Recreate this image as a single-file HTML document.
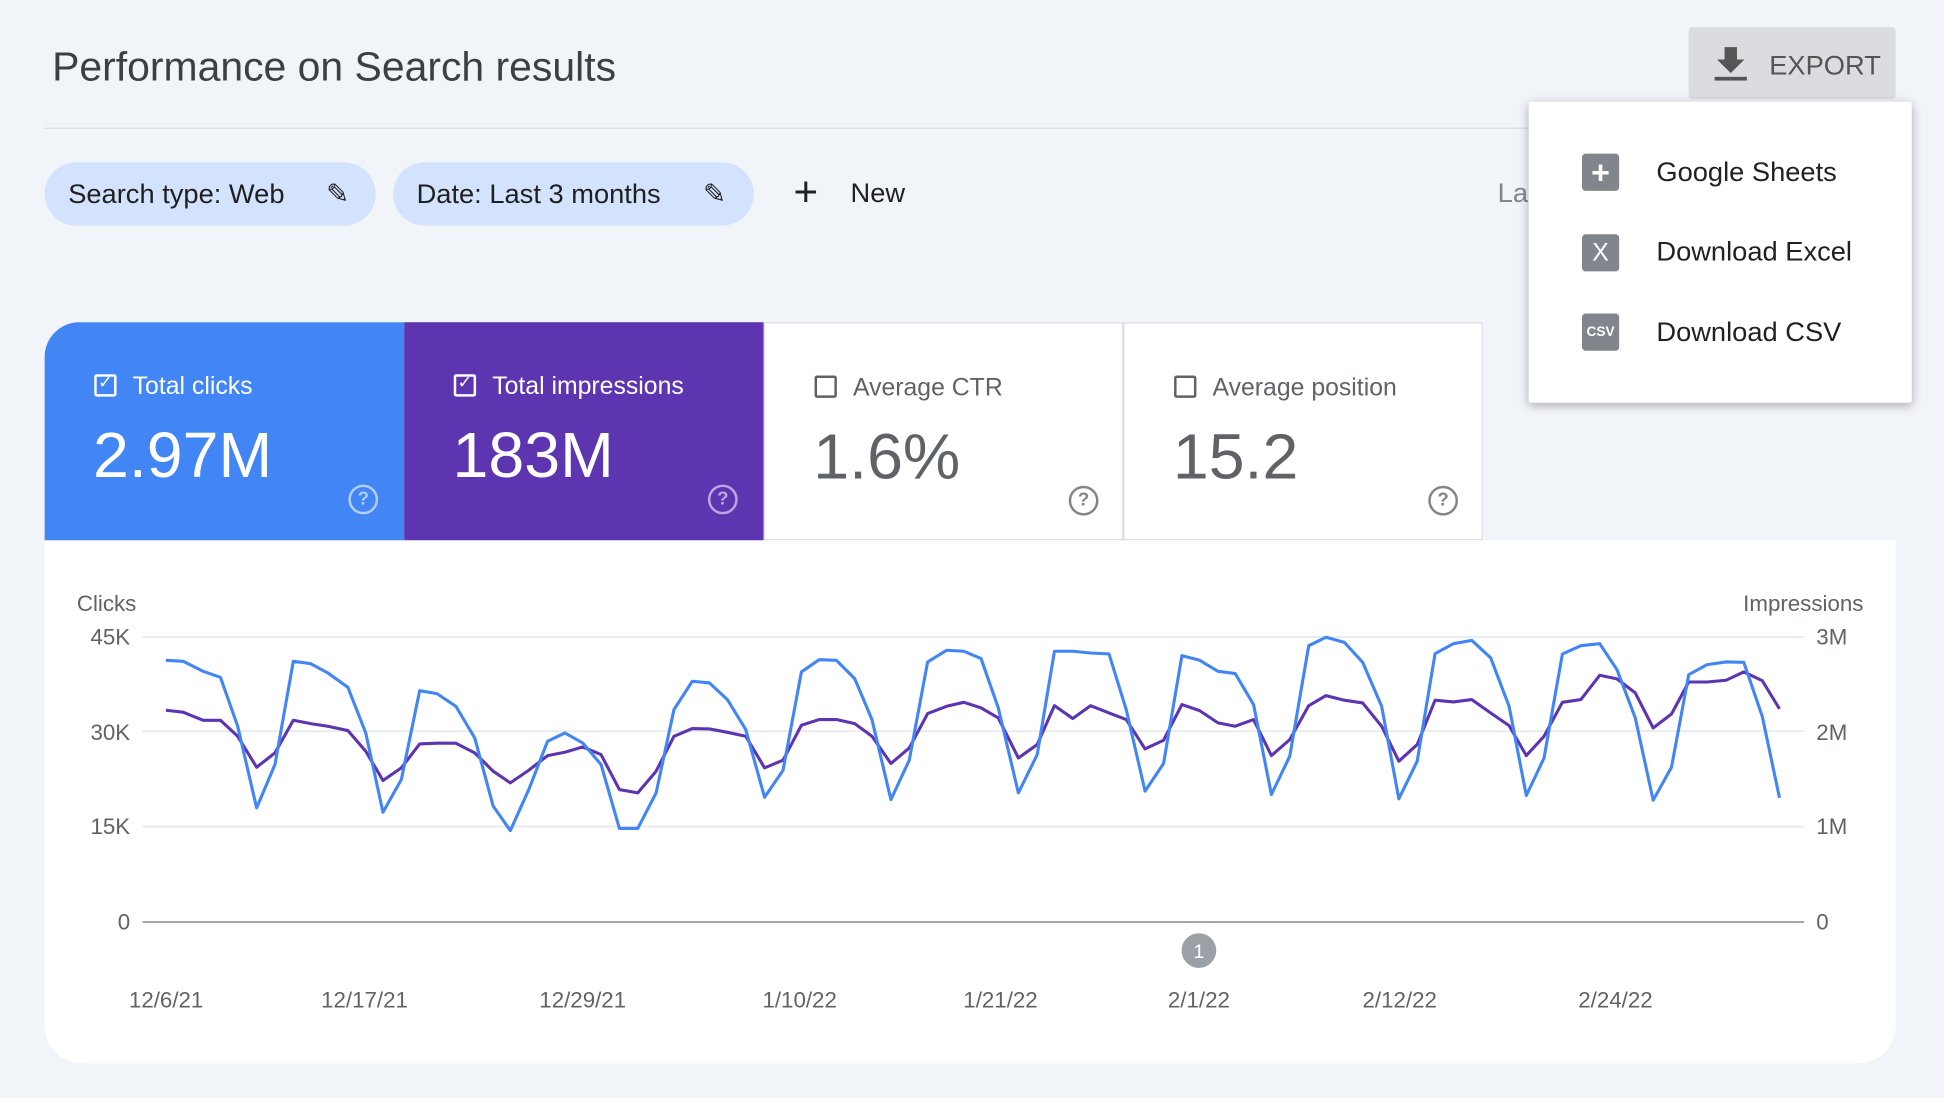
<!DOCTYPE html>
<html><head><meta charset="utf-8"><style>
html,body{margin:0;padding:0;width:1944px;height:1098px;overflow:hidden;background:#f1f4f9;font-family:"Liberation Sans",Arial,sans-serif}
#w{position:absolute;left:0;top:0;width:1568px;height:886px;transform:scale(1.2398,1.2393);transform-origin:0 0}
.a{position:absolute}
.chip{position:absolute;top:131px;height:51px;border-radius:26px;background:#d3e3fd;font-size:22px;color:#1f1f1f;line-height:51px;padding-left:19px;box-sizing:border-box}
.tile{position:absolute;top:260px;width:290px;height:176px;box-sizing:border-box}
.cb{position:absolute;left:40px;top:42px;width:18px;height:18px;border:2px solid;border-radius:2px;box-sizing:border-box}
.lbl{position:absolute;left:71px;top:41px;font-size:20px}
.val{position:absolute;left:39px;top:78px;font-size:52px}
.q{position:absolute;left:245px;top:131px;width:20px;height:20px;border:2px solid;border-radius:50%;font-size:15px;line-height:20px;text-align:center;font-weight:bold}
.mi{position:absolute;left:1336px;font-size:22px;color:#202124}
.ic{position:absolute;left:1276px;width:30px;height:30px;background:#80868b;border-radius:3px;color:#fff;text-align:center;line-height:30px}
</style></head><body><div id="w">
<div class="a" style="left:42px;top:35px;font-size:33px;color:#3c4043">Performance on Search results</div>
<div class="a" style="left:36px;top:103px;width:1494px;height:1px;background:#dadce0"></div>
<div class="chip" style="left:36px;width:267px">Search type: Web <span style="position:absolute;left:227px;font-size:22px">✎</span></div>
<div class="chip" style="left:317px;width:291px">Date: Last 3 months <span style="position:absolute;left:250px">✎</span></div>
<div class="a" style="left:640px;top:138px;font-size:34px;line-height:34px;color:#202124">+</div>
<div class="a" style="left:686px;top:143px;font-size:22px;color:#202124">New</div>
<div class="a" style="left:1208px;top:143px;font-size:22px;color:#80868b">La</div>
<div class="a" style="left:1362px;top:22px;width:167px;height:58px;background:#dadce0;border-radius:3px"></div>
<svg class="a" style="left:1382px;top:36px" width="28" height="30"><path d="M9 2h10v10h6L14 23 3 12h6z" fill="#555"/><rect x="1" y="26" width="26" height="3" fill="#555"/></svg>
<div class="a" style="left:1427px;top:40px;font-size:22px;color:#555">EXPORT</div>
<div class="tile" style="left:36px;background:#4285f4;color:#fff;border-top-left-radius:28px"><div class="cb" style="border-color:#fff"><span style="position:absolute;left:1px;top:-4px;font-size:14px">✓</span></div><div class="lbl">Total clicks</div><div class="val">2.97M</div><div class="q" style="border-color:#b3cffb;color:#b3cffb">?</div></div>
<div class="tile" style="left:326px;background:#5e35b1;color:#fff"><div class="cb" style="border-color:#fff"><span style="position:absolute;left:1px;top:-4px;font-size:14px">✓</span></div><div class="lbl">Total impressions</div><div class="val">183M</div><div class="q" style="border-color:#bba7e0;color:#bba7e0">?</div></div>
<div class="tile" style="left:616px;background:#fff;color:#5f6368;border:1px solid #dadce0"><div class="cb" style="border-color:#5f6368"></div><div class="lbl">Average CTR</div><div class="val">1.6%</div><div class="q" style="border-color:#80868b;color:#80868b">?</div></div>
<div class="tile" style="left:906px;background:#fff;color:#5f6368;border:1px solid #dadce0"><div class="cb" style="border-color:#5f6368"></div><div class="lbl">Average position</div><div class="val">15.2</div><div class="q" style="border-color:#80868b;color:#80868b">?</div></div>
<div class="a" style="left:36px;top:436px;width:1493px;height:422px;background:#fff;border-radius:0 0 30px 30px"></div>
<svg class="a" style="left:0;top:0" width="1568" height="886" font-family="Liberation Sans,Arial,sans-serif">
<g stroke="#e8eaed" stroke-width="1.5"><line x1="115" y1="514" x2="1455" y2="514"/><line x1="115" y1="590" x2="1455" y2="590"/><line x1="115" y1="667" x2="1455" y2="667"/></g>
<line x1="115" y1="744" x2="1455" y2="744" stroke="#9aa0a6" stroke-width="1.5"/>
<g font-size="18" fill="#5f6368"><text x="62" y="493">Clicks</text><text x="1503" y="493" text-anchor="end">Impressions</text>
<text x="105" y="520" text-anchor="end">45K</text><text x="105" y="597" text-anchor="end">30K</text><text x="105" y="673" text-anchor="end">15K</text><text x="105" y="750" text-anchor="end">0</text>
<text x="1465" y="520">3M</text><text x="1465" y="597">2M</text><text x="1465" y="673">1M</text><text x="1465" y="750">0</text>
<g text-anchor="middle"><text x="134" y="813">12/6/21</text><text x="294" y="813">12/17/21</text><text x="470" y="813">12/29/21</text><text x="645" y="813">1/10/22</text><text x="807" y="813">1/21/22</text><text x="967" y="813">2/1/22</text><text x="1129" y="813">2/12/22</text><text x="1303" y="813">2/24/22</text></g></g>
<circle cx="967" cy="767" r="14" fill="#9aa0a6"/><text x="967" y="773" font-size="16" fill="#fff" text-anchor="middle">1</text>
<polyline id="pp" fill="none" stroke="#5e35b1" stroke-width="2.5" stroke-linejoin="round"/>
<polyline id="bp" fill="none" stroke="#4285f4" stroke-width="2.5" stroke-linejoin="round"/>
</svg>
<div class="a" style="left:1233px;top:82px;width:309px;height:243px;background:#fff;box-shadow:0 2px 8px rgba(0,0,0,.3);border-radius:2px"></div>
<div class="ic" style="top:124px;font-size:26px;font-weight:bold">+</div><div class="mi" style="top:126px">Google Sheets</div>
<div class="ic" style="top:189px;font-size:20px">X</div><div class="mi" style="top:190px">Download Excel</div>
<div class="ic" style="top:253px;font-size:11px;font-weight:bold">CSV</div><div class="mi" style="top:255px">Download CSV</div>
</div>
<script>
var b1=[[80,122],[110,125],[145,155],[175,173],[205,320],[238,565],[270,435],[302,125],[332,132],[362,160],[397,203],[428,340],[458,578],[490,480],[522,213],[552,222],[585,260],[618,355],[650,560],[680,633],[712,510],[745,365],[775,340],[806,370],[838,435],[870,627],[902,627],[934,520],[965,270],[997,185],[1027,190],[1058,240],[1090,330],[1123,533],[1155,452],[1187,157],[1218,120],[1248,122],[1280,177],[1310,300],[1343,540],[1375,422],[1407,127],[1440,92],[1470,95],[1500,117],[1530,265],[1565,520]];
var b2=[[65,405],[95,95],[127,95],[158,100],[190,103],[220,270],[253,515],[285,432],[317,108],[348,122],[380,155],[410,162],[442,255],[473,525],[505,410],[538,78],[568,53],[600,68],[632,128],[665,260],[695,538],[727,425],[758,102],[790,72],[822,62],[855,115],[887,260],[917,528],[948,415],[980,103],[1012,78],[1045,72],[1075,150],[1107,295],[1138,542],[1170,443],[1200,165],[1232,135],[1265,127],[1296,128],[1328,290],[1358,535]];
var p1=[[80,272],[110,278],[145,302],[175,302],[205,350],[238,443],[270,400],[302,302],[332,312],[362,320],[397,333],[428,395],[458,483],[490,445],[522,373],[552,371],[585,371],[618,400],[650,455],[680,490],[712,452],[745,408],[775,398],[806,382],[838,405],[870,510],[902,520],[934,455],[965,350],[997,327],[1027,328],[1058,338],[1090,350],[1123,445],[1155,422],[1187,317],[1218,300],[1248,300],[1280,312],[1310,350],[1343,432],[1375,385],[1407,282],[1440,260],[1470,248],[1500,265],[1530,295],[1565,415]];
var p2=[[65,375],[95,258],[127,297],[158,258],[190,280],[220,300],[253,388],[285,362],[317,255],[348,273],[380,310],[410,320],[442,300],[473,408],[505,360],[538,258],[568,228],[600,242],[632,250],[665,320],[695,425],[727,375],[758,242],[790,247],[822,240],[855,280],[887,318],[917,408],[948,350],[980,248],[1012,240],[1045,167],[1075,178],[1107,220],[1138,325],[1170,283],[1200,187],[1232,187],[1265,182],[1296,157],[1328,183],[1358,268]];
function f(a,ox){return a.map(function(p){return (ox+p[0]*0.463).toFixed(1)+','+(500+p[1]*0.2688).toFixed(1)}).join(' ')}
document.getElementById('bp').setAttribute('points',f(b1,96.8)+' '+f(b2,806.5));
document.getElementById('pp').setAttribute('points',f(p1,96.8)+' '+f(p2,806.5));
</script>
</body></html>
